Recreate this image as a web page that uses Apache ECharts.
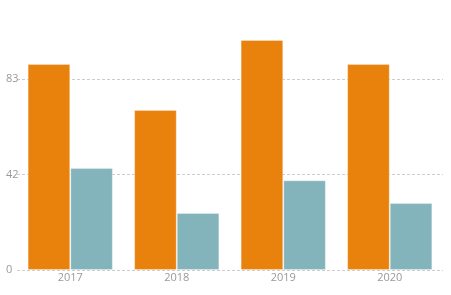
<!DOCTYPE html>
<html><head><meta charset="utf-8">
<script src="https://cdn.jsdelivr.net/npm/echarts@6/dist/echarts.min.js"></script>
<style>html,body{margin:0;padding:0;background:#fff}#c{width:451px;height:295px}</style>
</head><body><div id="c"></div>
<script>
const categories = ['2017', '2018', '2019', '2020'];
const seriesA = [89.6, 69.6, 100, 89.6];
const seriesB = [44.3, 24.8, 39, 29.1];
const yTicks = [0, 41.5, 83];
const yMax = 117.4;

const chart = echarts.init(document.getElementById('c'), null, {renderer: 'canvas'});
chart.setOption({
  animation: false,
  textStyle: {fontFamily: 'Open Sans'},
  grid: {left: 17, right: 8, top: 0, bottom: 25, containLabel: false},
  xAxis: {
    type: 'category', data: categories,
    axisLine: {show: false}, axisTick: {show: false},
    axisLabel: {color: '#999', fontSize: 11, margin: 2, fontFamily: 'Open Sans'}
  },
  yAxis: {
    type: 'value', min: yTicks[0], max: yMax, interval: yTicks[1] - yTicks[0],
    axisLine: {show: false}, axisTick: {show: false},
    axisLabel: {color: '#999', fontSize: 11, align: 'left', margin: 11, fontFamily: 'Open Sans',
      showMaxLabel: false,
      formatter: v => (yTicks.indexOf(v) >= 0 ? String(Math.round(v)) : '')},
    splitLine: {showMaxLine: false, lineStyle: {color: '#ccc', type: [3, 2], width: 1}}
  },
  series: [
    {type: 'bar', data: seriesA, barGap: '0%', barCategoryGap: '20%',
     itemStyle: {color: '#E8820C', borderColor: 'rgba(255,255,255,0.3)', borderWidth: 1}},
    {type: 'bar', data: seriesB,
     itemStyle: {color: '#84B4BB', borderColor: 'rgba(255,255,255,0.3)', borderWidth: 1}}
  ]
});
</script></body></html>
